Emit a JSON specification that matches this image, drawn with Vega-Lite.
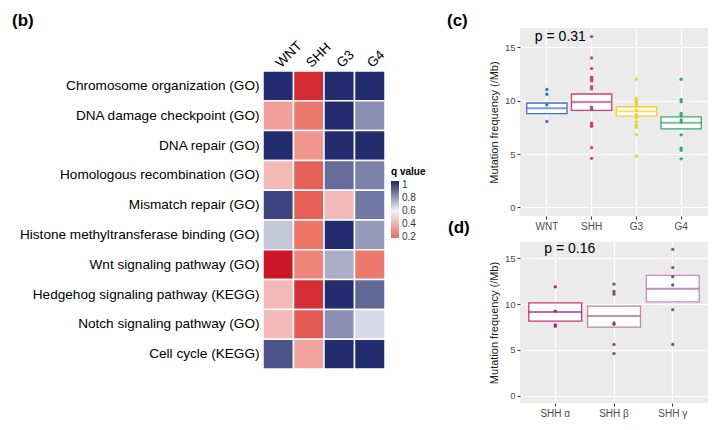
{
  "$schema": "https://vega.github.io/schema/vega-lite/v6.json",
  "background": "white",
  "padding": {"left": 12, "top": 12, "right": 4, "bottom": 4},
  "config": {
    "font": "Liberation Sans",
    "view": {"stroke": null}
  },
  "datasets": {
    "heat": [
      {"path": "Chromosome organization (GO)", "grp": "WNT", "q": 1.0},
      {"path": "Chromosome organization (GO)", "grp": "SHH", "q": 0.06},
      {"path": "Chromosome organization (GO)", "grp": "G3", "q": 1.0},
      {"path": "Chromosome organization (GO)", "grp": "G4", "q": 1.0},
      {"path": "DNA damage checkpoint (GO)", "grp": "WNT", "q": 0.34},
      {"path": "DNA damage checkpoint (GO)", "grp": "SHH", "q": 0.22},
      {"path": "DNA damage checkpoint (GO)", "grp": "G3", "q": 1.0},
      {"path": "DNA damage checkpoint (GO)", "grp": "G4", "q": 0.8},
      {"path": "DNA repair (GO)", "grp": "WNT", "q": 1.0},
      {"path": "DNA repair (GO)", "grp": "SHH", "q": 0.31},
      {"path": "DNA repair (GO)", "grp": "G3", "q": 1.0},
      {"path": "DNA repair (GO)", "grp": "G4", "q": 1.0},
      {"path": "Homologous recombination (GO)", "grp": "WNT", "q": 0.42},
      {"path": "Homologous recombination (GO)", "grp": "SHH", "q": 0.16},
      {"path": "Homologous recombination (GO)", "grp": "G3", "q": 0.87},
      {"path": "Homologous recombination (GO)", "grp": "G4", "q": 0.83},
      {"path": "Mismatch repair (GO)", "grp": "WNT", "q": 0.95},
      {"path": "Mismatch repair (GO)", "grp": "SHH", "q": 0.16},
      {"path": "Mismatch repair (GO)", "grp": "G3", "q": 0.42},
      {"path": "Mismatch repair (GO)", "grp": "G4", "q": 0.85},
      {"path": "Histone methyltransferase binding (GO)", "grp": "WNT", "q": 0.69},
      {"path": "Histone methyltransferase binding (GO)", "grp": "SHH", "q": 0.2},
      {"path": "Histone methyltransferase binding (GO)", "grp": "G3", "q": 1.0},
      {"path": "Histone methyltransferase binding (GO)", "grp": "G4", "q": 0.78},
      {"path": "Wnt signaling pathway (GO)", "grp": "WNT", "q": 0.02},
      {"path": "Wnt signaling pathway (GO)", "grp": "SHH", "q": 0.25},
      {"path": "Wnt signaling pathway (GO)", "grp": "G3", "q": 0.74},
      {"path": "Wnt signaling pathway (GO)", "grp": "G4", "q": 0.22},
      {"path": "Hedgehog signaling pathway (KEGG)", "grp": "WNT", "q": 0.42},
      {"path": "Hedgehog signaling pathway (KEGG)", "grp": "SHH", "q": 0.07},
      {"path": "Hedgehog signaling pathway (KEGG)", "grp": "G3", "q": 1.0},
      {"path": "Hedgehog signaling pathway (KEGG)", "grp": "G4", "q": 0.88},
      {"path": "Notch signaling pathway (GO)", "grp": "WNT", "q": 0.42},
      {"path": "Notch signaling pathway (GO)", "grp": "SHH", "q": 0.15},
      {"path": "Notch signaling pathway (GO)", "grp": "G3", "q": 0.8},
      {"path": "Notch signaling pathway (GO)", "grp": "G4", "q": 0.65},
      {"path": "Cell cycle (KEGG)", "grp": "WNT", "q": 0.92},
      {"path": "Cell cycle (KEGG)", "grp": "SHH", "q": 0.35},
      {"path": "Cell cycle (KEGG)", "grp": "G3", "q": 1.0},
      {"path": "Cell cycle (KEGG)", "grp": "G4", "q": 1.0}
    ],
    "c_box": [
      {"grp": "WNT", "lo": 8.78, "mid": 9.28, "hi": 9.78},
      {"grp": "SHH", "lo": 9.08, "mid": 9.88, "hi": 10.62},
      {"grp": "G3", "lo": 8.55, "mid": 9.0, "hi": 9.43},
      {"grp": "G4", "lo": 7.36, "mid": 7.92, "hi": 8.48}
    ],
    "c_pts": [
      {"grp": "WNT", "v": 11.05}, {"grp": "WNT", "v": 10.6}, {"grp": "WNT", "v": 9.6}, {"grp": "WNT", "v": 8.05},
      {"grp": "SHH", "v": 16.0}, {"grp": "SHH", "v": 14.0}, {"grp": "SHH", "v": 13.0}, {"grp": "SHH", "v": 12.2},
      {"grp": "SHH", "v": 12.0}, {"grp": "SHH", "v": 11.85}, {"grp": "SHH", "v": 11.3}, {"grp": "SHH", "v": 11.1},
      {"grp": "SHH", "v": 9.4}, {"grp": "SHH", "v": 9.2}, {"grp": "SHH", "v": 7.9}, {"grp": "SHH", "v": 7.75},
      {"grp": "SHH", "v": 7.6}, {"grp": "SHH", "v": 5.6}, {"grp": "SHH", "v": 4.6},
      {"grp": "G3", "v": 12.0}, {"grp": "G3", "v": 10.2}, {"grp": "G3", "v": 10.0}, {"grp": "G3", "v": 9.85},
      {"grp": "G3", "v": 9.65}, {"grp": "G3", "v": 9.1}, {"grp": "G3", "v": 8.7}, {"grp": "G3", "v": 8.4},
      {"grp": "G3", "v": 8.0}, {"grp": "G3", "v": 7.7}, {"grp": "G3", "v": 7.5}, {"grp": "G3", "v": 6.8}, {"grp": "G3", "v": 4.8},
      {"grp": "G4", "v": 12.0}, {"grp": "G4", "v": 10.1}, {"grp": "G4", "v": 9.9}, {"grp": "G4", "v": 8.8},
      {"grp": "G4", "v": 8.6}, {"grp": "G4", "v": 8.2}, {"grp": "G4", "v": 8.0}, {"grp": "G4", "v": 6.8},
      {"grp": "G4", "v": 5.55}, {"grp": "G4", "v": 5.35}, {"grp": "G4", "v": 4.55}
    ],
    "d_box": [
      {"grp": "SHH α", "lo": 8.15, "mid": 9.15, "hi": 10.15},
      {"grp": "SHH β", "lo": 7.5, "mid": 8.7, "hi": 9.8},
      {"grp": "SHH γ", "lo": 10.25, "mid": 11.7, "hi": 13.15}
    ],
    "d_pts": [
      {"grp": "SHH α", "v": 11.9}, {"grp": "SHH α", "v": 9.25}, {"grp": "SHH α", "v": 7.75}, {"grp": "SHH α", "v": 7.6},
      {"grp": "SHH β", "v": 12.2}, {"grp": "SHH β", "v": 11.4}, {"grp": "SHH β", "v": 11.1}, {"grp": "SHH β", "v": 7.95},
      {"grp": "SHH β", "v": 7.8}, {"grp": "SHH β", "v": 5.6}, {"grp": "SHH β", "v": 4.6},
      {"grp": "SHH γ", "v": 16.0}, {"grp": "SHH γ", "v": 14.0}, {"grp": "SHH γ", "v": 13.0}, {"grp": "SHH γ", "v": 12.1},
      {"grp": "SHH γ", "v": 9.4}, {"grp": "SHH γ", "v": 5.6}
    ],
    "ann": [
      {"panel": "c", "grp": "WNT", "y": 16, "label": "p = 0.31"},
      {"panel": "d", "grp": "SHH α", "y": 16, "label": "p = 0.16"}
    ]
  },
  "bounds": "flush",
  "spacing": 135,
  "resolve": {"scale": {"color": "independent", "stroke": "independent", "fill": "independent"}},
  "hconcat": [
    {
      "width": 122,
      "height": 384,
      "title": {"text": "(b)", "anchor": "start", "frame": "group", "dx": -251, "offset": -2, "fontSize": 17, "fontWeight": "bold", "color": "black"},
      "data": {"name": "heat"},
      "encoding": {
        "x": {
          "field": "grp", "type": "nominal",
          "scale": {"domain": ["WNT", "SHH", "G3", "G4"], "paddingInner": 0, "paddingOuter": 0},
          "axis": {"orient": "top", "offset": -43, "labelAngle": -45, "labelAlign": "left", "labelBaseline": "middle", "labelFontSize": 13.5, "labelColor": "black", "ticks": false, "domain": false, "labelPadding": 6, "title": null}
        },
        "y": {
          "field": "path", "type": "nominal",
          "scale": {"domain": ["Chromosome organization (GO)", "DNA damage checkpoint (GO)", "DNA repair (GO)", "Homologous recombination (GO)", "Mismatch repair (GO)", "Histone methyltransferase binding (GO)", "Wnt signaling pathway (GO)", "Hedgehog signaling pathway (KEGG)", "Notch signaling pathway (GO)", "Cell cycle (KEGG)"], "paddingInner": 0, "paddingOuter": 0, "range": [43, 341]},
          "axis": {"ticks": false, "domain": false, "labelFontSize": 13.6, "labelColor": "black", "labelPadding": 4, "labelLimit": 400, "title": null}
        }
      },
      "layer": [
        {
          "mark": {"type": "rect", "stroke": "white", "strokeWidth": 1.5},
          "encoding": {
            "color": {"field": "q", "type": "quantitative", "legend": null,
              "scale": {"domain": [0, 0.2, 0.6, 1], "range": ["#C80A1E", "#EE7466", "#F3F3F8", "#222C6E"], "interpolate": "rgb", "clamp": true}}
          }
        },
        {
          "mark": {"type": "rect", "opacity": 0},
          "encoding": {
            "color": {"field": "q", "type": "quantitative",
              "scale": {"domain": [0.185, 0.6, 1.06], "range": ["#EB6C5F", "#F3F3F8", "#1E286A"], "interpolate": "rgb"},
              "legend": {"title": "q value", "orient": "none", "legendX": 128, "legendY": 139, "direction": "vertical", "gradientLength": 57, "gradientThickness": 8, "gradientStrokeWidth": 0, "values": [0.2, 0.4, 0.6, 0.8, 1], "format": "~g", "titleFontSize": 10, "titleFontWeight": "bold", "titleColor": "black", "titlePadding": 4, "labelFontSize": 10, "labelColor": "#333333", "labelOffset": 3}}
          }
        }
      ],
      "resolve": {"scale": {"color": "independent"}}
    },
    {
      "bounds": "flush",
      "spacing": 26,
      "resolve": {"scale": {"color": "independent", "stroke": "independent", "fill": "independent"}},
      "vconcat": [
        {
          "width": 188,
          "height": 188,
          "view": {"fill": "#EBEBEB", "stroke": null},
          "title": {"text": "(c)", "anchor": "start", "frame": "group", "dx": -73, "offset": -2, "fontSize": 17, "fontWeight": "bold", "color": "black"},
          "encoding": {
            "x": {
              "field": "grp", "type": "nominal",
              "scale": {"domain": ["WNT", "SHH", "G3", "G4"], "paddingInner": 0, "paddingOuter": 0.1},
              "axis": {"orient": "bottom", "title": null, "labelAngle": 0, "grid": true, "gridColor": "white", "gridWidth": 1.2, "bandPosition": 0.5, "tickSize": 3, "tickColor": "#333333", "domain": false, "labelColor": "#4D4D4D", "labelFontSize": 10, "labelPadding": 2}
            }
          },
          "layer": [
            {
              "data": {"name": "c_box"},
              "mark": {"type": "bar", "fill": "white", "strokeWidth": 1.3, "width": {"band": 0.9}},
              "encoding": {
                "y": {"field": "lo", "type": "quantitative", "title": "Mutation frequency (/Mb)",
                  "scale": {"domain": [-0.8, 16.8], "nice": false, "zero": false},
                  "axis": {"values": [0, 2.5, 5, 7.5, 10, 12.5, 15], "format": "~g", "labelExpr": "datum.value % 5 === 0 ? datum.label : ''", "grid": true, "gridColor": "white",
                    "gridWidth": {"condition": {"test": "datum.value % 5 === 0", "value": 1.2}, "value": 0.5},
                    "tickOpacity": {"condition": {"test": "datum.value % 5 === 0", "value": 1}, "value": 0},
                    "tickSize": 3, "tickColor": "#333333", "domain": false, "labelColor": "#4D4D4D", "labelFontSize": 9.5, "labelPadding": 2, "titleFontSize": 11, "titleFontWeight": "normal", "titleColor": "#1A1A1A", "titlePadding": 5}},
                "y2": {"field": "hi"},
                "stroke": {"field": "grp", "type": "nominal", "legend": null, "scale": {"domain": ["WNT", "SHH", "G3", "G4"], "range": ["#3E6FD8", "#DA3A6E", "#F3D02A", "#39A96B"]}}
              }
            },
            {
              "data": {"name": "c_box"},
              "mark": {"type": "tick", "size": 40, "thickness": 2},
              "encoding": {
                "y": {"field": "mid", "type": "quantitative", "title": "Mutation frequency (/Mb)"},
                "color": {"field": "grp", "type": "nominal", "legend": null, "scale": {"domain": ["WNT", "SHH", "G3", "G4"], "range": ["#3E6FD8", "#DA3A6E", "#F3D02A", "#39A96B"]}}
              }
            },
            {
              "data": {"name": "c_pts"},
              "mark": {"type": "circle", "size": 11, "opacity": 1},
              "encoding": {
                "y": {"field": "v", "type": "quantitative", "title": "Mutation frequency (/Mb)"},
                "color": {"field": "grp", "type": "nominal", "legend": null}
              }
            },
            {
              "data": {"name": "ann"},
              "transform": [{"filter": "datum.panel === 'c'"}],
              "mark": {"type": "text", "align": "left", "baseline": "middle", "dx": -12, "fontSize": 14, "color": "black"},
              "encoding": {
                "y": {"field": "y", "type": "quantitative", "title": "Mutation frequency (/Mb)"},
                "text": {"field": "label", "type": "nominal"}
              }
            }
          ]
        },
        {
          "width": 188,
          "height": 161,
          "view": {"fill": "#EBEBEB", "stroke": null},
          "title": {"text": "(d)", "anchor": "start", "frame": "group", "dx": -72, "offset": 5, "fontSize": 17, "fontWeight": "bold", "color": "black"},
          "encoding": {
            "x": {
              "field": "grp", "type": "nominal",
              "scale": {"domain": ["SHH α", "SHH β", "SHH γ"], "paddingInner": 0, "paddingOuter": 0.1},
              "axis": {"orient": "bottom", "title": null, "labelAngle": 0, "grid": true, "gridColor": "white", "gridWidth": 1.2, "bandPosition": 0.5, "tickSize": 3, "tickColor": "#333333", "domain": false, "labelColor": "#4D4D4D", "labelFontSize": 10, "labelPadding": 2}
            }
          },
          "layer": [
            {
              "data": {"name": "d_box"},
              "mark": {"type": "bar", "fill": "white", "strokeWidth": 1.3, "width": {"band": 0.9}},
              "encoding": {
                "y": {"field": "lo", "type": "quantitative", "title": "Mutation frequency (/Mb)",
                  "scale": {"domain": [-0.8, 16.8], "nice": false, "zero": false},
                  "axis": {"values": [0, 2.5, 5, 7.5, 10, 12.5, 15], "format": "~g", "labelExpr": "datum.value % 5 === 0 ? datum.label : ''", "grid": true, "gridColor": "white",
                    "gridWidth": {"condition": {"test": "datum.value % 5 === 0", "value": 1.2}, "value": 0.5},
                    "tickOpacity": {"condition": {"test": "datum.value % 5 === 0", "value": 1}, "value": 0},
                    "tickSize": 3, "tickColor": "#333333", "domain": false, "labelColor": "#4D4D4D", "labelFontSize": 9.5, "labelPadding": 2, "titleFontSize": 11, "titleFontWeight": "normal", "titleColor": "#1A1A1A", "titlePadding": 5}},
                "y2": {"field": "hi"},
                "stroke": {"field": "grp", "type": "nominal", "legend": null, "scale": {"domain": ["SHH α", "SHH β", "SHH γ"], "range": ["#C8357B", "#BC8C94", "#C68AC6"]}}
              }
            },
            {
              "data": {"name": "d_box"},
              "mark": {"type": "tick", "size": 53, "thickness": 2},
              "encoding": {
                "y": {"field": "mid", "type": "quantitative", "title": "Mutation frequency (/Mb)"},
                "color": {"field": "grp", "type": "nominal", "legend": null, "scale": {"domain": ["SHH α", "SHH β", "SHH γ"], "range": ["#B82A6E", "#A86A72", "#A45AA8"]}}
              }
            },
            {
              "data": {"name": "d_pts"},
              "mark": {"type": "circle", "size": 11, "opacity": 1},
              "encoding": {
                "y": {"field": "v", "type": "quantitative", "title": "Mutation frequency (/Mb)"},
                "fill": {"field": "grp", "type": "nominal", "legend": null, "scale": {"domain": ["SHH α", "SHH β", "SHH γ"], "range": ["#B0245E", "#8E4E5E", "#8E4E6E"]}}
              }
            },
            {
              "data": {"name": "ann"},
              "transform": [{"filter": "datum.panel === 'd'"}],
              "mark": {"type": "text", "align": "left", "baseline": "middle", "dx": -11, "fontSize": 14, "color": "black"},
              "encoding": {
                "y": {"field": "y", "type": "quantitative", "title": "Mutation frequency (/Mb)"},
                "text": {"field": "label", "type": "nominal"}
              }
            }
          ]
        }
      ]
    }
  ]
}
